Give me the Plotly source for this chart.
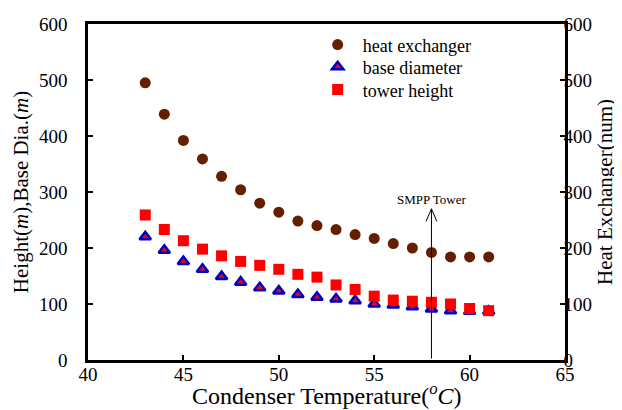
import plotly.graph_objects as go

temps = [43, 44, 45, 46, 47, 48, 49, 50, 51, 52, 53, 54, 55, 56, 57, 58, 59, 60, 61]
heat_exchanger = [495, 439, 392, 359, 328, 304, 280, 264, 248, 240, 233, 224, 217, 208, 200, 192, 184, 184, 184]
base_diameter = [220, 196, 176, 162, 149, 139, 129, 123, 117, 112, 109, 106, 100, 98, 95, 91, 88, 87, 87]
tower_height = [259, 233, 213, 198, 186, 176, 169, 162, 153, 148, 134, 126, 114, 107, 105, 103, 100, 92, 88]

smpp_temp = 58
smpp_arrow_top = 270
smpp_label_y = 286

FONT = "Liberation Serif, Times New Roman, serif"

fig = go.Figure()
fig.add_trace(go.Scatter(
    x=temps, y=heat_exchanger, mode="markers", name="heat exchanger", yaxis="y2", legend="legend",
    marker=dict(symbol="circle", size=11, color="#641e00", line=dict(width=0))))
fig.add_trace(go.Scatter(
    x=temps, y=base_diameter, mode="markers", name="base diameter", legend="legend2",
    marker=dict(symbol="triangle-up", size=10, color="#ff0000", line=dict(width=2.5, color="#0000c0"))))
fig.add_trace(go.Scatter(
    x=temps, y=tower_height, mode="markers", name="tower height", legend="legend3",
    marker=dict(symbol="square", size=11, color="#ff0000", line=dict(width=0))))

# SMPP Tower arrow: shaft plus an open V head
fig.add_annotation(x=smpp_temp, y=smpp_arrow_top, ax=smpp_temp, ay=0, xref="x", yref="y",
                   axref="x", ayref="y", showarrow=True, arrowhead=0,
                   arrowwidth=1, arrowcolor="#000000", text="")
for dx in (-6, 6):
    fig.add_annotation(x=smpp_temp, y=smpp_arrow_top, ax=dx, ay=14, xref="x", yref="y",
                       showarrow=True, arrowhead=0, arrowwidth=1, arrowcolor="#000000", text="")
fig.add_annotation(x=smpp_temp, y=smpp_label_y, xref="x", yref="y", showarrow=False,
                   text="SMPP Tower", font=dict(family=FONT, size=13, color="#000000"))
fig.add_annotation(x=0.5, y=-0.052, xref="paper", yref="paper", xanchor="center", yanchor="top",
                   showarrow=False, text="Condenser Temperature(<sup><i>o</i></sup><i>C</i>)",
                   font=dict(family=FONT, size=24, color="#000000"))

axis_common = dict(showgrid=False, zeroline=False, showline=True, linecolor="#000000", linewidth=2.5,
                   ticks="inside", ticklen=5, tickwidth=1.5, tickcolor="#000000", automargin=False,
                   tickfont=dict(family=FONT, size=19, color="#000000"))

legend_common = dict(x=0.471, xanchor="left", yanchor="middle", bgcolor="rgba(0,0,0,0)",
                     font=dict(family=FONT, size=18, color="#000000"), itemwidth=40)

fig.update_layout(
    width=622, height=410,
    margin=dict(l=80, r=65, t=16, b=58),
    paper_bgcolor="white", plot_bgcolor="white",
    font=dict(family=FONT, color="#000000"),
    xaxis=dict(range=[40, 65], dtick=5, mirror=True, ticklabelstandoff=-5, **axis_common),
    yaxis=dict(range=[0, 600], dtick=100, ticklabelstandoff=14,
               title=dict(text="Height(<i>m</i>),Base Dia.(<i>m</i>)",
                          font=dict(family=FONT, size=21), standoff=5),
               **axis_common),
    yaxis2=dict(range=[0, 600], dtick=100, overlaying="y", side="right", ticklabelstandoff=-8,
                title=dict(text="Heat Exchanger(num)", font=dict(family=FONT, size=21), standoff=7),
                **axis_common),
    showlegend=True,
    legend=dict(y=0.938, **legend_common),
    legend2=dict(y=0.872, **legend_common),
    legend3=dict(y=0.804, **legend_common),
)

fig.write_html("out.html")
